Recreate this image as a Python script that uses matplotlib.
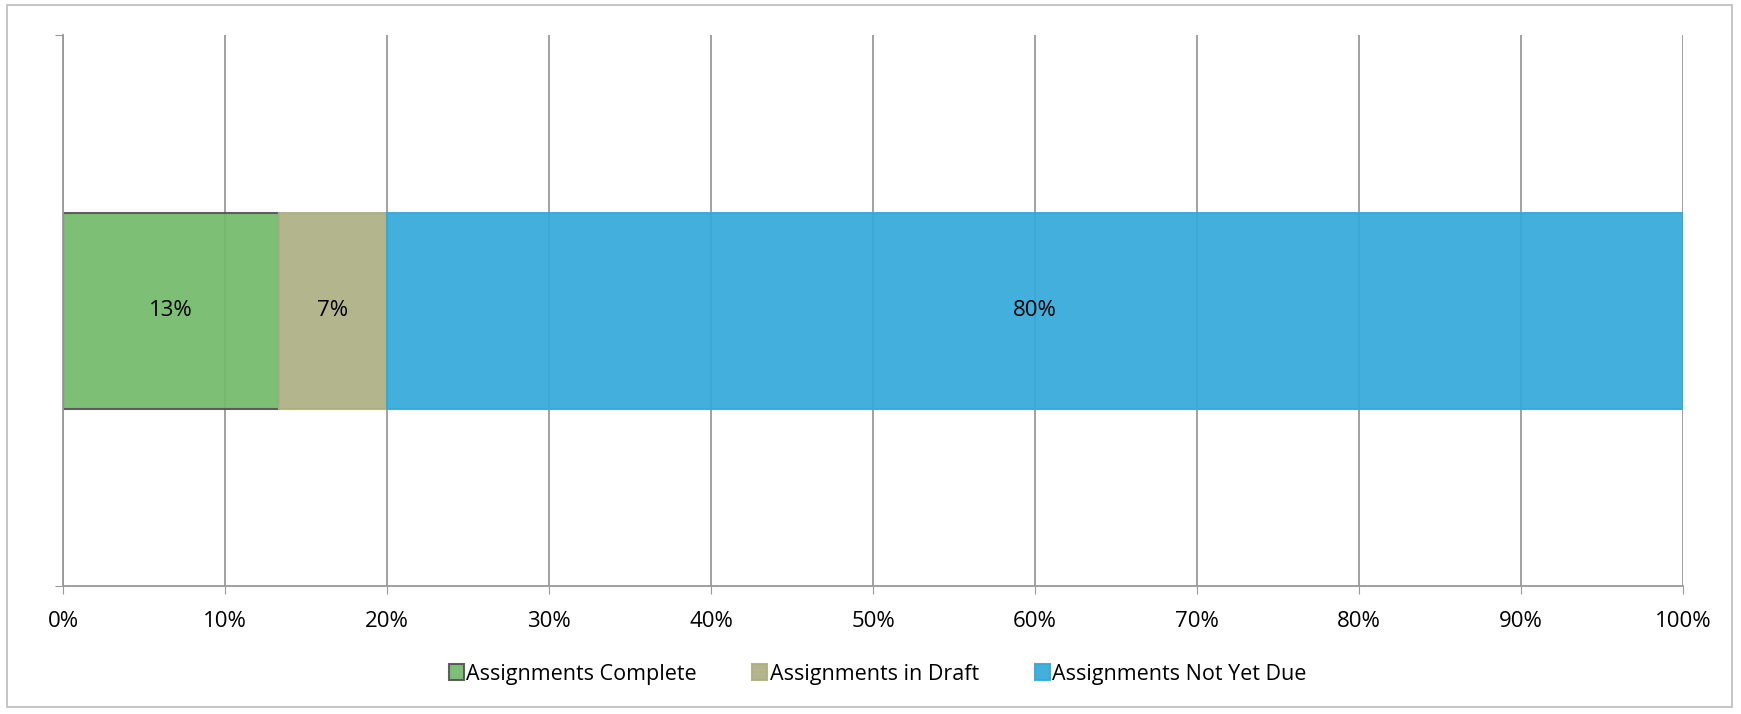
import matplotlib.pyplot as plt
from matplotlib.patches import Rectangle
from matplotlib.ticker import PercentFormatter

categories = ["Assignments Complete", "Assignments in Draft", "Assignments Not Yet Due"]
shares = [13.33, 6.67, 80.0]
labels = ["13%", "7%", "80%"]
colors = ["#73ba6b", "#aeb083", "#33a9db"]
edges = ["#555555", "#aeb083", "#33a9db"]
xticks = list(range(0, 101, 10))

plt.rcParams["font.family"] = ["Open Sans", "DejaVu Sans"]

fig = plt.figure(figsize=(17.41, 7.14), dpi=100)
ax = fig.add_axes([0.0362, 0.1793, 0.9305, 0.771])

left = 0
for name, v, lab, c, ec in zip(categories, shares, labels, colors, edges):
    ax.barh(0, v, left=left, height=0.356, color=c, edgecolor=ec, lw=1.5,
            alpha=0.93, label=name, zorder=2)
    ax.text(left + v / 2, 0, lab, ha="center", va="center", fontsize=16, color="black", zorder=3)
    left += v

ax.set_xlim(0, 100)
ax.set_ylim(-0.5, 0.5)
ax.set_xticks(xticks)
ax.xaxis.set_major_formatter(PercentFormatter(decimals=0))
ax.set_yticks([-0.5, 0.5])
ax.set_yticklabels([])
ax.tick_params(axis="x", labelsize=16, length=6, color="#999999", pad=12)
ax.tick_params(axis="y", length=6, color="#999999")
ax.grid(True, axis="x", color="#9a9a9a", lw=1.3, zorder=0)
ax.set_axisbelow(True)
for s in ["top", "right"]:
    ax.spines[s].set_visible(False)
for s in ["left", "bottom"]:
    ax.spines[s].set_color("#999999")
    ax.spines[s].set_linewidth(1.3)

ax.legend(loc="center", bbox_to_anchor=(0.504, 0.056), bbox_transform=fig.transFigure,
          ncol=3, frameon=False, fontsize=15.5, handlelength=0.7, handleheight=0.7,
          handletextpad=0.1, columnspacing=2.6)

fig.patches.append(Rectangle((0.004, 0.01), 0.991, 0.983, transform=fig.transFigure,
                             fill=False, edgecolor="#bbbbbb", lw=1.2))

fig.savefig("out.png", dpi=100)
